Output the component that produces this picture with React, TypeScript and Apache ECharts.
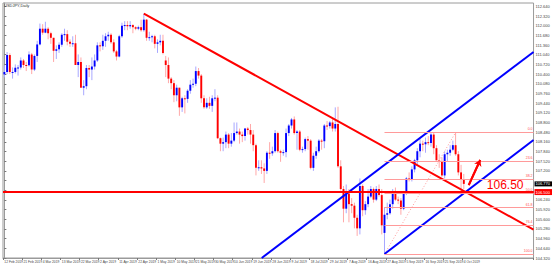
import React, { useEffect, useRef } from "react";
import * as echarts from "echarts";

// ---- trading days (Feb 12 2019 .. Oct 4 2019) ----
const monthDays: [string, number[]][] = [
  ["Feb", [12, 13, 14, 15, 18, 19, 20, 21, 22, 25, 26, 27, 28]],
  ["Mar", [1, 4, 5, 6, 7, 8, 11, 12, 13, 14, 15, 18, 19, 20, 21, 22, 25, 26, 27, 28, 29]],
  ["Apr", [1, 2, 3, 4, 5, 8, 9, 10, 11, 12, 15, 16, 17, 18, 19, 22, 23, 24, 25, 26, 29, 30]],
  ["May", [1, 2, 3, 6, 7, 8, 9, 10, 13, 14, 15, 16, 17, 20, 21, 22, 23, 24, 27, 28, 29, 30, 31]],
  ["Jun", [3, 4, 5, 6, 7, 10, 11, 12, 13, 14, 17, 18, 19, 20, 21, 24, 25, 26, 27, 28]],
  ["Jul", [1, 2, 3, 4, 5, 8, 9, 10, 11, 12, 15, 16, 17, 18, 19, 22, 23, 24, 25, 26, 29, 30, 31]],
  ["Aug", [1, 2, 5, 6, 7, 8, 9, 12, 13, 14, 15, 16, 19, 20, 21, 22, 23, 26, 27, 28, 29, 30]],
  ["Sep", [2, 3, 4, 5, 6, 9, 10, 11, 12, 13, 16, 17, 18, 19, 20, 23, 24, 25, 26, 27, 30]],
  ["Oct", [1, 2, 3, 4]],
];
const futureSlots = 25;

const opens = [
  110.39, 110.47, 111.03, 110.47, 110.47, 110.61, 110.62, 110.85, 110.70, 110.69, 111.05, 110.55, 111.00,
  111.38, 111.90, 111.77, 111.90, 111.75, 111.60, 111.17, 111.22, 111.37, 111.70, 111.72, 111.47, 111.40, 111.42, 110.70, 110.80, 109.95, 110.00, 110.60, 110.55, 110.65,
  110.85, 111.35, 111.32, 111.50, 111.65, 111.70, 111.45, 111.15, 110.98, 111.65, 112.00, 112.02, 111.98, 112.02, 111.95, 111.90, 111.95, 111.85, 112.20, 111.60, 111.62, 111.65,
  111.40, 111.45, 111.50, 110.85, 110.70, 110.25, 110.10, 109.70, 109.95, 109.30, 109.60, 109.58, 109.85, 110.05, 110.08, 110.50, 110.35, 109.60, 109.30, 109.45, 109.35, 109.60, 109.62,
  108.28, 108.10, 108.15, 108.40, 108.10, 108.20, 108.45, 108.50, 108.40, 108.35, 108.60, 108.55, 108.40, 108.05, 107.30, 107.32, 107.28, 107.20, 107.80, 107.78,
  107.85, 108.45, 107.85, 107.80, 107.82, 108.45, 108.70, 108.90, 108.45, 108.50, 107.90, 107.92, 108.25, 108.20, 107.30, 107.70, 107.85, 108.20, 108.18, 108.70, 108.68, 108.80, 108.60,
  108.75, 107.35, 106.60, 105.95, 106.45, 106.10, 106.05, 105.65, 105.30, 106.70, 105.90, 106.10, 106.35, 106.60, 106.25, 106.60, 106.40, 105.15, 105.75, 105.80, 106.10, 106.50,
  106.25, 106.22, 105.95, 106.45, 106.95, 106.90, 107.25, 107.55, 107.85, 108.10, 108.08, 108.15, 108.12, 108.40, 107.95, 107.55, 107.52, 107.05, 107.75, 107.80, 107.90,
  108.05, 107.75, 107.15, 106.90,
];
const highs = [
  110.69, 111.13, 111.09, 110.62, 110.72, 110.70, 110.95, 110.90, 110.80, 111.15, 111.10, 111.05, 111.50,
  112.07, 112.05, 112.13, 111.95, 111.80, 111.60, 111.35, 111.45, 111.75, 111.90, 111.85, 111.55, 111.65, 111.70, 111.05, 110.95, 110.20, 110.70, 110.70, 110.95, 111.05,
  111.45, 111.45, 111.70, 111.75, 111.80, 111.75, 111.55, 111.20, 111.70, 112.10, 112.15, 112.15, 112.15, 112.05, 111.98, 112.00, 112.20, 112.40, 112.22, 111.80, 111.70, 111.70,
  111.55, 111.70, 111.70, 111.00, 110.95, 110.30, 110.20, 110.05, 109.95, 109.65, 109.70, 109.90, 110.20, 110.25, 110.65, 110.60, 110.40, 109.70, 109.60, 109.65, 109.70, 109.90, 109.70,
  108.30, 108.30, 108.50, 108.45, 108.45, 108.80, 108.80, 108.60, 108.50, 108.62, 108.65, 108.75, 108.55, 108.10, 107.55, 107.55, 107.45, 107.85, 108.15, 108.00,
  108.55, 108.50, 107.90, 107.90, 108.60, 108.75, 108.95, 109.00, 108.55, 108.55, 108.00, 108.30, 108.35, 108.25, 107.80, 108.00, 108.25, 108.25, 108.75, 108.85, 108.85, 108.95, 109.30,
  109.32, 107.55, 106.70, 106.75, 106.60, 106.30, 106.15, 105.75, 106.95, 106.75, 106.20, 106.60, 106.70, 106.65, 106.70, 106.75, 106.60, 106.00, 106.15, 106.25, 106.60, 106.65,
  106.35, 106.30, 106.50, 107.00, 107.15, 107.35, 107.60, 107.95, 108.25, 108.20, 108.30, 108.35, 108.45, 108.48, 108.05, 107.75, 107.65, 107.85, 107.90, 108.05, 108.20,
  108.47, 107.85, 107.40, 107.10,
];
const lows = [
  110.29, 110.40, 110.40, 110.25, 110.42, 110.35, 110.55, 110.60, 110.50, 110.65, 110.40, 110.50, 110.80,
  111.35, 111.70, 111.75, 111.55, 111.40, 110.80, 110.90, 111.10, 111.30, 111.50, 111.35, 111.30, 111.30, 110.70, 110.30, 109.95, 109.70, 109.90, 110.30, 110.20, 110.55,
  110.80, 111.15, 111.20, 111.30, 111.50, 111.40, 111.10, 110.85, 110.95, 111.60, 111.85, 111.85, 111.90, 111.75, 111.85, 111.85, 111.80, 111.80, 111.50, 111.50, 111.45, 111.25,
  111.10, 111.35, 111.05, 110.30, 110.10, 109.90, 109.47, 109.50, 109.02, 109.15, 109.10, 109.45, 109.75, 109.95, 110.00, 110.25, 109.45, 109.25, 109.25, 109.25, 109.15, 109.50, 108.25,
  107.85, 107.85, 107.95, 107.95, 108.00, 108.15, 108.40, 108.10, 108.15, 108.20, 108.40, 108.10, 107.85, 107.05, 107.20, 107.10, 106.80, 107.10, 107.60, 107.70,
  107.80, 107.80, 107.50, 107.70, 107.65, 108.35, 108.60, 108.40, 107.90, 107.85, 107.80, 107.85, 107.90, 107.25, 107.20, 107.60, 107.80, 107.90, 107.95, 108.55, 108.60, 108.50, 108.50,
  107.30, 106.55, 105.50, 105.80, 105.50, 105.80, 105.30, 105.05, 105.10, 105.70, 105.75, 106.00, 106.30, 106.15, 106.20, 106.35, 105.10, 104.45, 105.60, 105.75, 105.95, 106.20,
  106.10, 105.75, 105.90, 106.40, 106.85, 106.85, 107.15, 107.40, 107.65, 107.85, 107.80, 108.05, 108.00, 107.75, 107.55, 107.30, 107.00, 106.95, 107.50, 107.70, 107.85,
  107.70, 107.05, 106.48, 106.60,
];
const closes = [
  110.47, 111.03, 110.47, 110.47, 110.61, 110.62, 110.85, 110.70, 110.69, 111.05, 110.55, 111.00, 111.38,
  111.90, 111.77, 111.90, 111.75, 111.60, 111.17, 111.22, 111.37, 111.70, 111.72, 111.47, 111.40, 111.42, 110.70, 110.80, 109.95, 110.00, 110.60, 110.55, 110.65, 110.85,
  111.35, 111.32, 111.50, 111.65, 111.70, 111.45, 111.15, 110.98, 111.65, 112.00, 112.02, 111.98, 112.02, 111.95, 111.90, 111.95, 111.85, 112.20, 111.60, 111.62, 111.65, 111.40,
  111.45, 111.50, 111.10, 110.70, 110.25, 110.10, 109.70, 109.95, 109.30, 109.60, 109.58, 109.85, 110.05, 110.08, 110.50, 110.35, 109.60, 109.30, 109.45, 109.35, 109.60, 109.62, 108.28,
  108.10, 108.15, 108.40, 108.10, 108.20, 108.45, 108.50, 108.40, 108.35, 108.60, 108.55, 108.40, 108.05, 107.30, 107.32, 107.28, 107.20, 107.80, 107.78, 107.85,
  108.45, 107.85, 107.80, 107.82, 108.45, 108.70, 108.90, 108.45, 108.50, 107.90, 107.92, 108.25, 108.20, 107.30, 107.70, 107.85, 108.20, 108.18, 108.70, 108.68, 108.80, 108.60, 108.75,
  107.35, 106.60, 105.95, 106.45, 106.10, 106.05, 105.65, 105.30, 106.70, 105.90, 106.10, 106.35, 106.60, 106.25, 106.60, 106.40, 105.40, 105.75, 105.80, 106.10, 106.50, 106.25,
  106.22, 105.95, 106.45, 106.95, 106.90, 107.25, 107.55, 107.85, 108.10, 108.08, 108.15, 108.12, 108.40, 107.95, 107.55, 107.52, 107.05, 107.75, 107.80, 107.90, 108.05,
  107.75, 107.15, 106.90, 106.77,
];

// ---- drawn objects (bar index, price) ----
const redTrend: [number, number][] = [[51, 112.40], [193.5, 105.26]];
const blueUpper: [number, number][] = [[94.1, 104.32], [193.5, 111.13]];
const blueLower: [number, number][] = [[139, 104.45], [193.5, 108.22]];
const supportLevel = 106.5;
const fibLowIdx = 139;
const fibHighIdx = 165;
const fibLow = 104.45;
const fibHigh = 108.47;
const fibLevels = [0, 23.6, 38.2, 50.0, 61.8, 76.4, 100.0];
const arrowPts: [number, number][] = [[169.8, 106.73], [174.0, 107.56]];
const lastPrice = 106.77;

const yMin = 104.32;
const yMax = 112.75;
const yStep = 0.32;

export default function App() {
  const ref = useRef<HTMLDivElement>(null);
  useEffect(() => {
    if (!ref.current) return;
    const chart = echarts.init(ref.current, undefined, { renderer: "svg" });
    const dates: string[] = [];
    monthDays.forEach(([m, days]) => days.forEach((d) => dates.push(`${d} ${m} 2019`)));
    const n = dates.length;
    const cats = dates.concat(new Array(futureSlots).fill(""));
    const total = cats.length;
    const candles = opens.map((o, i) => [i, o, closes[i], lows[i], highs[i]]);
    const xMaxV = total - 0.5;
    const fibData = fibLevels.map((lv) => {
      const p = fibHigh - (fibHigh - fibLow) * (lv / 100);
      return [
        { coord: [fibLowIdx, p], name: lv.toFixed(1) },
        { coord: [xMaxV, p] },
      ];
    });
    const labelInterval = (idx: number) => idx % 7 === 0 && idx < n;
    const hiddenNear = [supportLevel, lastPrice];

    chart.setOption({
      animation: false,
      backgroundColor: "#ffffff",
      textStyle: { fontFamily: "Liberation Sans, Arial, sans-serif" },
      title: {
        text: "USDJPY,Daily",
        left: 4,
        top: 3,
        padding: 0,
        textStyle: { fontSize: 4, fontWeight: "normal", color: "#333" },
      },
      grid: { left: 3, right: 16, top: 3, bottom: 9, show: true, borderColor: "#9a9a9a", borderWidth: 1 },
      xAxis: [
        {
          type: "category",
          data: cats,
          boundaryGap: true,
          axisLine: { lineStyle: { color: "#9a9a9a" } },
          axisTick: { show: true, length: 2, interval: labelInterval, lineStyle: { color: "#777" } },
          axisLabel: {
            interval: labelInterval,
            fontSize: 3.3,
            color: "#444",
            margin: 2,
            align: "left",
          },
          splitLine: { show: false },
        },
        { type: "value", min: -0.5, max: xMaxV, show: false },
      ],
      yAxis: {
        type: "value",
        position: "right",
        min: yMin,
        max: yMax,
        interval: yStep,
        scale: true,
        axisLine: { show: true, lineStyle: { color: "#9a9a9a" } },
        axisTick: { show: true, length: 2, lineStyle: { color: "#777" } },
        axisLabel: {
          fontSize: 4,
          color: "#444",
          margin: 2,
          showMaxLabel: false,
          formatter: (v: number) =>
            hiddenNear.some((h) => Math.abs(h - v) < 0.2) ? "" : v.toFixed(3),
        },
        splitLine: { show: false },
      },
      series: [
        {
          type: "custom",
          xAxisIndex: 0,
          yAxisIndex: 0,
          data: candles,
          encode: { x: 0, y: [1, 2, 3, 4] },
          renderItem: (params: any, api: any) => {
            const x = api.value(0);
            const o = api.value(1);
            const c = api.value(2);
            const l = api.value(3);
            const h = api.value(4);
            const pO = api.coord([x, o]);
            const pC = api.coord([x, c]);
            const pL = api.coord([x, l]);
            const pH = api.coord([x, h]);
            const bw = Math.max(1.4, api.size([1, 0])[0] * 0.7);
            const up = c >= o;
            const top = Math.min(pO[1], pC[1]);
            const bot = Math.max(pO[1], pC[1]);
            return {
              type: "group",
              children: [
                {
                  type: "line",
                  shape: { x1: pH[0], y1: pH[1], x2: pL[0], y2: pL[1] },
                  style: { stroke: up ? "#a8a8ff" : "#ffa8a8", lineWidth: 1 },
                },
                {
                  type: "rect",
                  shape: { x: pO[0] - bw / 2, y: top, width: bw, height: Math.max(1, bot - top) },
                  style: { fill: up ? "#0000ff" : "#ff0000" },
                },
              ],
            };
          },
        },
        {
          type: "line",
          xAxisIndex: 1,
          data: [[fibLowIdx, fibLow], [fibHighIdx, fibHigh]],
          symbol: "none",
          silent: true,
          lineStyle: { color: "#ff9a9a", width: 1, type: [1, 2] },
          markLine: {
            silent: true,
            symbol: ["none", "none"],
            lineStyle: { color: "#ff9a9a", width: 1, type: "solid" },
            label: {
              show: true,
              position: "insideEndTop",
              formatter: "{b}",
              fontSize: 3.5,
              color: "#ff5050",
              distance: [1, 1],
            },
            data: fibData,
          },
        },
        {
          type: "line",
          xAxisIndex: 1,
          data: redTrend,
          symbol: "none",
          silent: true,
          lineStyle: { color: "#ff0000", width: 2 },
        },
        {
          type: "line",
          xAxisIndex: 1,
          data: blueUpper,
          symbol: "none",
          silent: true,
          lineStyle: { color: "#0000ff", width: 2 },
        },
        {
          type: "line",
          xAxisIndex: 1,
          data: blueLower,
          symbol: "none",
          silent: true,
          lineStyle: { color: "#0000ff", width: 2 },
        },
        {
          type: "line",
          xAxisIndex: 1,
          data: [[-0.5, supportLevel], [xMaxV, supportLevel]],
          symbol: "none",
          silent: true,
          lineStyle: { color: "#ff0000", width: 2 },
          endLabel: {
            show: true,
            formatter: supportLevel.toFixed(3),
            backgroundColor: "#ff0000",
            color: "#ffffff",
            fontSize: 4,
            padding: [1, 2, 1, 1],
            distance: 1,
          },
          markLine: {
            silent: true,
            symbol: ["none", "none"],
            lineStyle: { color: "#ff0000", width: 2, type: "solid" },
            label: {
              show: true,
              position: "insideEndTop",
              formatter: supportLevel.toFixed(2),
              fontSize: 12,
              color: "#ff0000",
              distance: [10, 1],
            },
            data: [{ yAxis: supportLevel }],
          },
        },
        {
          type: "line",
          xAxisIndex: 1,
          data: [[n - 1, lastPrice], [xMaxV, lastPrice]],
          symbol: "none",
          silent: true,
          lineStyle: { opacity: 0 },
          endLabel: {
            show: true,
            formatter: lastPrice.toFixed(3),
            backgroundColor: "#000000",
            color: "#ffffff",
            fontSize: 4,
            padding: [1, 2, 0, 1],
            distance: 1,
          },
        },
        {
          type: "line",
          xAxisIndex: 1,
          data: arrowPts,
          symbol: "none",
          silent: true,
          lineStyle: { color: "#ff0000", width: 2 },
          markLine: {
            silent: true,
            symbol: ["none", "arrow"],
            symbolSize: 6,
            lineStyle: { color: "#ff0000", width: 2, type: "solid" },
            label: { show: false },
            data: [[{ coord: arrowPts[0] }, { coord: arrowPts[1] }]],
          },
        },
      ],
    });
    return () => chart.dispose();
  }, []);
  return (
    <div
      ref={ref}
      style={{ position: "fixed", left: 0, top: 0, width: 553, height: 267, background: "#fff" }}
    />
  );
}
